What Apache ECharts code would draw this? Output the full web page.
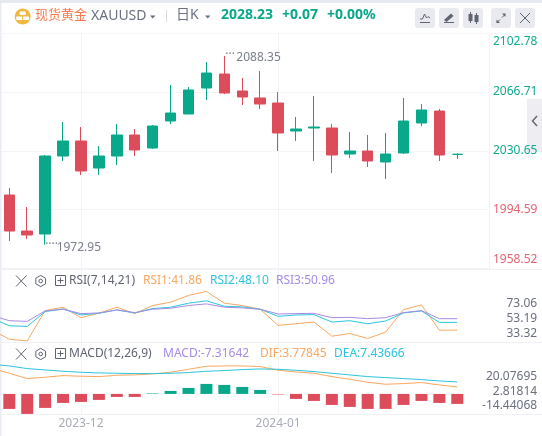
<!DOCTYPE html>
<html><head><meta charset="utf-8">
<style>html,body{margin:0;padding:0;background:#fff}#c{width:542px;height:436px}</style>
<script src="https://cdn.jsdelivr.net/npm/echarts@6/dist/echarts.min.js"></script>
</head><body><div id="c"></div>
<script>
const categories = ['','','','','','2023-12','','','','','','','','','','','2024-01','','','','','','','','','','',''];
const candles = [ // open, close, low, high
 ['-','-','-','-'],
 [2003.32,1981.31,1975.20,2007.60],[1981.31,1978.87,1976.42,1995.99],[1979.48,2027.16,1972.95,2027.77],
 [2027.16,2036.33,2024.11,2047.95],[2036.33,2018.00,2015.55,2044.89],[2019.83,2027.16,2015.55,2033.28],
 [2027.16,2040.00,2021.66,2046.72],[2040.00,2030.83,2027.16,2043.67],[2032.05,2045.50,2031.44,2046.11],
 [2048.56,2053.45,2046.72,2070.56],[2052.84,2067.51,2052.84,2069.34],[2068.73,2077.90,2061.40,2084.62],
 [2077.29,2065.67,2065.06,2088.35],[2066.90,2063.23,2058.34,2074.84],[2062.62,2058.95,2055.89,2079.12],
 [2059.56,2041.22,2030.22,2066.29],[2042.44,2043.67,2036.33,2051.00],[2044.28,2044.89,2024.11,2063.84],
 [2044.28,2027.77,2016.77,2046.72],[2028.38,2030.22,2025.94,2041.83],[2030.22,2024.11,2020.44,2040.00],
 [2023.50,2028.38,2013.10,2041.22],[2029.00,2048.56,2028.38,2062.62],[2047.34,2055.28,2045.50,2058.95],
 [2054.67,2027.77,2024.11,2055.89],[2028.16,2028.23,2025.33,2028.80],
 ['-','-','-','-']
];
const rsi1 = [38.45,26.13,23.93,63.53,67.93,54.29,60.01,67.93,59.57,70.13,74.53,83.33,88.61,73.21,70.13,65.29,44.17,46.37,48.57,30.09,33.61,27.01,35.37,64.85,71.01,38.01,38.01,'-'];
const rsi2 = [53.85,43.73,42.85,62.21,65.73,57.81,60.01,64.41,60.45,66.17,67.93,73.21,76.29,69.25,68.37,65.29,56.05,57.81,58.25,48.57,50.33,46.37,49.89,60.45,63.09,48.13,48.13,'-'];
const rsi3 = [57.37,50.33,49.45,63.09,65.29,59.57,60.45,64.41,60.89,65.29,66.61,70.13,72.33,67.93,67.05,65.29,59.13,59.57,60.01,54.29,54.73,52.97,54.29,60.89,63.53,52.97,52.97,'-'];
const macdBars = ['-',-17.85,-23.80,-16.66,-10.71,-9.52,-7.14,-3.57,-3.57,0.6,3.57,7.14,11.90,10.71,8.33,4.76,-0.6,-5.95,-8.33,-13.09,-15.47,-17.85,-17.85,-13.09,-8.33,-10.71,-11.90,'-'];
const dif = [30.55,24.60,18.25,19.84,21.82,21.03,20.63,22.22,22.61,23.80,25.79,29.36,32.93,33.32,33.32,32.53,28.17,26.18,24.60,20.63,17.45,13.88,11.50,12.30,13.49,10.71,8.33,'-'];
const dea = [35.31,33.32,30.15,28.56,26.98,25.79,24.99,24.60,24.20,24.20,24.60,25.39,26.98,27.77,28.96,29.75,29.36,28.17,26.58,24.60,22.61,20.63,19.44,18.25,17.05,15.47,14.28,'-'];
const priceTicks = [1958.52,1994.59,2030.65,2066.71,2102.78];
const rsiTicks = [33.32,53.19,73.06];
const macdTicks = [-14.44068,2.81814,20.07695];
const monthIdx = [5,16];
const highIdx = 13, highVal = 2088.35, lowIdx = 3, lowVal = 1972.95;

const GREEN='#09a88a', RED='#dd4c5b', ORANGE='#f9a75f', CYAN='#2bc4de', PURPLE='#a68be4';
const LINE='#f3f4f8', GRAY='#6b7080', ICON='#5f6470';
const FONT='"Noto Sans","Noto Sans CJK SC",sans-serif';
const L=-17.58, W=501.76;

function t(text,x,y,color,size,weight,align){return {type:'text',x:x,y:y,silent:true,z:20,style:{text:text,fill:color,font:(weight||'normal')+' '+(size||12)+'px '+FONT,textVerticalAlign:'middle',textAlign:align||'left'}};}
function ln(a,b,c,d,color,w){return {type:'line',silent:true,z:20,shape:{x1:a,y1:b,x2:c,y2:d},style:{stroke:color,lineWidth:w||1}};}
function poly(p,color){return {type:'polygon',silent:true,z:20,shape:{points:p},style:{fill:color}};}
function pl(p,color,w){return {type:'polyline',silent:true,z:20,shape:{points:p},style:{stroke:color,lineWidth:w||1,fill:null}};}
function rr(x,y,w,h,r,color,z){return {type:'rect',silent:true,z:z===undefined?1:z,shape:{x:x,y:y,width:w,height:h,r:r},style:{fill:color}};}
function paneIcons(cy){
 const out=[ln(16,cy-5.5,26.5,cy+5.5,ICON,1),ln(26.5,cy-5.5,16,cy+5.5,ICON,1)];
 const cx=40.7,r=5.6,h=[];
 for(let k=0;k<6;k++){const a=Math.PI/6+k*Math.PI/3;h.push([cx+r*Math.cos(a),cy+r*Math.sin(a)]);}
 h.push(h[0]);
 out.push(pl(h,ICON,1));
 out.push({type:'circle',silent:true,z:20,shape:{cx:cx,cy:cy,r:1.8},style:{stroke:ICON,fill:null,lineWidth:1}});
 out.push({type:'rect',silent:true,z:20,shape:{x:55.5,y:cy-5.5,width:10,height:10},style:{stroke:ICON,fill:null,lineWidth:1}});
 out.push(ln(60.5,cy-3.5,60.5,cy+2.5,ICON,1),ln(57.5,cy-0.5,63.5,cy-0.5,ICON,1));
 return out;
}
const graphics=[
 rr(0,0,542,3,0,'#e6e9f0'), rr(0,3,1.5,433,0,'#e9ecf3'),
 rr(527,99,15,53,0,'#ededf2',-1), pl([[537,116],[532.5,121],[537,126]],ICON,1.4),
 ln(0,33.5,542,33.5,'#f6f7f9',1), ln(0,269.5,542,269.5,'#f0f1f5',1), ln(0,342.5,542,342.5,'#f0f1f5',1), ln(0,414.5,542,414.5,'#f0f1f5',1),
 {type:'circle',silent:true,z:10,shape:{cx:22.7,cy:16.5,r:8},style:{fill:'#f0b840'}},
 rr(19.7,11.5,6,3.5,0.5,'#fff',11),rr(16.2,16.5,6,3.5,0.5,'#fff',11),rr(23.2,16.5,6,3.5,0.5,'#fff',11),
 t('现货黄金',35,15.5,'#fb7a4d',13),
 t('XAUUSD',91,16.5,GRAY,14),
 poly([[150,15.5],[155.5,15.5],[152.7,18.5]],GRAY),
 ln(166.5,10,166.5,22,'#d9dbe2',1),
 t('日K',176,15.5,GRAY,14),
 poly([[205,15.5],[210.5,15.5],[207.7,18.5]],GRAY),
 t('2028.23',221,15.5,GREEN,14,'bold'), t('+0.07',282,15.5,GREEN,14,'bold'), t('+0.00%',327,15.5,GREEN,14,'bold'),
 rr(415,8,20,20,3,'#e8eaf0'),rr(439,8,20,20,3,'#e8eaf0'),rr(463,8,20,20,3,'#e8eaf0'),rr(491,8,20,20,3,'#e8eaf0'),rr(515,8,20,20,3,'#e8eaf0'),
 pl([[420,19],[422.5,19],[424.5,14],[426.5,18],[428,16.5],[430,18]],ICON,1), ln(420,22.5,430,22.5,ICON,1),
 poly([[444,20],[451,13.5],[453.5,16],[446.5,22]],ICON), ln(444,22.5,454,22.5,ICON,1),
 ln(470.5,12,470.5,23,ICON,1), rr(468.5,14,4,7,0.5,ICON,20), ln(476.5,13,476.5,24,ICON,1), rr(474.5,15,4,7,0.5,ICON,20),
 ln(497,22.5,500,19.5,ICON,1), poly([[496.5,19.5],[496.5,23],[500,23]],ICON), ln(502,17.5,505,14.5,ICON,1), poly([[502,13.5],[505.5,13.5],[505.5,17]],ICON),
 ln(520,13,530,23,ICON,1), ln(530,13,520,23,ICON,1),
 ...paneIcons(281),
 t('RSI(7,14,21)',69,281,'#5f6470',12), t('RSI1:41.86',143,281,ORANGE,12), t('RSI2:48.10',210,281,CYAN,12), t('RSI3:50.96',276,281,PURPLE,12),
 ...paneIcons(354),
 t('MACD(12,26,9)',69,354,'#5f6470',12), t('MACD:-7.31642',163,354,PURPLE,12), t('DIF:3.77845',260,354,ORANGE,12), t('DEA:7.43666',334,354,CYAN,12)
];
const vLines={silent:true,symbol:'none',z:0,label:{show:false},animation:false,lineStyle:{color:LINE,width:1,type:'solid'},data:monthIdx.map(i=>({xAxis:i}))};
function xAx(g,show){return {type:'category',gridIndex:g,data:categories,boundaryGap:true,axisLine:{show:false},axisTick:{show:false},splitLine:{show:false},
  axisLabel:{show:!!show,interval:0,color:'#a8acb8',fontSize:12,fontFamily:FONT,margin:4}};}
function line(name,data,color,x,y,ml){const s={name:name,type:'line',xAxisIndex:x,yAxisIndex:y,data:data,symbol:'none',smooth:false,animation:false,lineStyle:{color:color,width:1},itemStyle:{color:color}};if(ml)s.markLine=vLines;return s;}
const chart=echarts.init(document.getElementById('c'),null,{renderer:'canvas'});
chart.setOption({
 animation:false,backgroundColor:'#fff',
 graphic:{elements:graphics},
 grid:[
  {left:0,top:33,width:489,height:235.5,outerBoundsMode:'none'},
  {left:L,top:32.3,width:W,height:236,outerBoundsMode:'none'},
  {left:L,top:269,width:W,height:73,outerBoundsMode:'none'},
  {left:L,top:342,width:W,height:72,outerBoundsMode:'none'}
 ],
 xAxis:[
  {type:'category',gridIndex:0,data:categories,show:false},
  xAx(1),xAx(2),xAx(3,true)
 ],
 yAxis:[
  {type:'value',gridIndex:0,position:'right',min:1958.52,max:2102.78,scale:true,
   axisLine:{show:true,lineStyle:{color:'#f1f2f6'}},axisTick:{show:false,customValues:priceTicks},
   splitLine:{show:true,lineStyle:{color:LINE,width:1}},
   axisLabel:{customValues:priceTicks,margin:4,align:'left',fontSize:12,fontFamily:FONT,lineHeight:17,
    verticalAlignMinLabel:'bottom',verticalAlignMaxLabel:'top',
    formatter:v=>v.toFixed(2),
    color:v=>v>=2030?'#0fab8e':'#e2646f'}},
  {type:'value',gridIndex:1,show:false,min:1958.52,max:2102.78,scale:true,splitLine:{show:false}},
  {type:'value',gridIndex:2,position:'right',min:22.48,max:117.9,scale:true,
   axisLine:{show:false},axisTick:{show:false,customValues:rsiTicks},splitLine:{show:false},
   axisLabel:{customValues:rsiTicks,margin:53,align:'right',fontSize:12,fontFamily:FONT,color:GRAY,formatter:v=>v.toFixed(2)}},
  {type:'value',gridIndex:3,position:'right',min:-23.9,max:61.8,scale:true,
   axisLine:{show:false},axisTick:{show:false,customValues:macdTicks},splitLine:{show:false},
   axisLabel:{customValues:macdTicks,margin:53,align:'right',fontSize:12,fontFamily:FONT,color:GRAY,formatter:v=>v.toFixed(5)}}
 ],
 series:[
  {name:'XAUUSD',type:'candlestick',xAxisIndex:1,yAxisIndex:1,data:candles,barWidth:11,animation:false,z:3,
   itemStyle:{color:GREEN,color0:RED,borderColor:GREEN,borderColor0:RED,borderWidth:1},
   markLine:vLines,
   markPoint:{silent:true,symbol:'circle',symbolSize:0,animation:false,
    data:[
     {coord:[highIdx,highVal],label:{show:true,position:'right',distance:0,offset:[1,-1],formatter:'···',color:'#7a7f8c',fontSize:12,fontFamily:FONT}},
     {coord:[highIdx,highVal],label:{show:true,position:'right',distance:0,offset:[12,2],formatter:String(highVal),color:'#7a7f8c',fontSize:12,fontFamily:FONT}},
     {coord:[lowIdx,lowVal],label:{show:true,position:'right',distance:0,offset:[0,0],formatter:'····',color:'#7a7f8c',fontSize:12,fontFamily:FONT}},
     {coord:[lowIdx,lowVal],label:{show:true,position:'right',distance:0,offset:[11.5,3],formatter:String(lowVal),color:'#7a7f8c',fontSize:12,fontFamily:FONT}}
    ]}},
  line('RSI1',rsi1,ORANGE,2,2,true), line('RSI2',rsi2,CYAN,2,2), line('RSI3',rsi3,PURPLE,2,2),
  {name:'MACD',type:'bar',xAxisIndex:3,yAxisIndex:3,data:macdBars,barWidth:12,animation:false,
   itemStyle:{color:p=>p.value>=0?GREEN:RED},markLine:vLines},
  line('DIF',dif,ORANGE,3,3), line('DEA',dea,CYAN,3,3)
 ]
});
</script></body></html>
